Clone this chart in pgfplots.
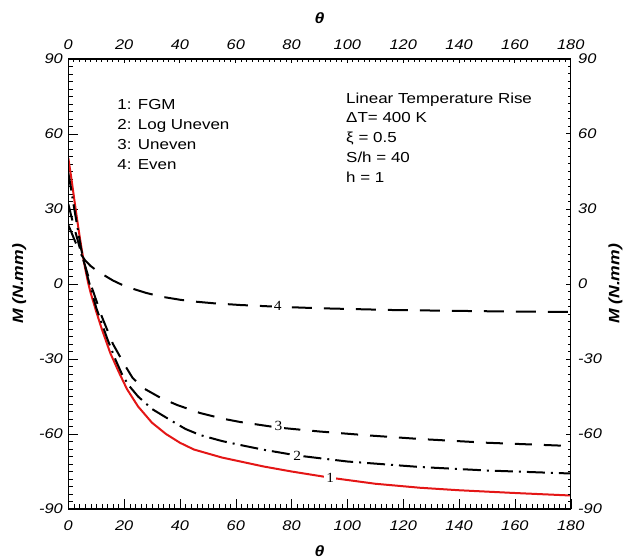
\documentclass[border=0pt]{standalone}
\usepackage{fontspec}
\setmainfont{Liberation Sans}[FakeStretch=1.17]
\newfontfamily\numfont{Liberation Serif}[FakeStretch=1.1]
\usepackage{pgfplots}
\pgfplotsset{compat=1.18}
\definecolor{fgmred}{RGB}{228,22,22}

\pgfplotsset{
  mycommon/.style={
    scale only axis, width=502.4pt, height=450pt,
    xmin=0, xmax=180, ymin=-90, ymax=90,
    xtick={0,20,...,180}, ytick={-90,-60,...,90},
    minor xtick={0,2,...,180}, minor ytick={-90,-87,...,90},
    axis line style={line width=1.2pt},
    tick label style={font=\fontsize{14}{16}\selectfont\itshape},
    /pgf/number format/assume math mode=true,
    every axis label/.append style={font=\fontsize{15}{17}\selectfont\bfseries\itshape},
  }
}

\begin{document}
\begin{tikzpicture}
\begin{axis}[mycommon,
  xtick pos=bottom, ytick pos=left,
  tickwidth=10pt, subtickwidth=5pt, tick style={black},
  xticklabel style={yshift=-8pt},
  yticklabel style={xshift=-2pt},
  xlabel={θ},
  ylabel={M (N.mm)},
  xlabel style={at={(axis description cs:0.5,0)}, anchor=base, yshift=-47pt},
  ylabel style={at={(axis description cs:-0.090,0.5)}, anchor=base},
]
% 1: FGM
\addplot[fgmred, line width=2pt] coordinates {
(0,50.4) (1,43) (2,35) (3,27) (4,19.5) (5,12.5) (6,6.5) (7,1) (8,-3.5) (10,-11) (12,-18) (15,-27.5)
(18,-35) (21,-42) (25,-49) (30,-55.5) (35,-60) (40,-63.5) (45,-66.2) (50,-67.8) (55,-69.4) (60,-70.6)
(70,-73) (80,-75) (94,-77.5) (110,-79.9) (126,-81.5) (140,-82.5) (160,-83.6) (180,-84.6)
};
% 2: Log Uneven
\addplot[black, line width=2pt, dash pattern=on 18pt off 6pt on 2pt off 6pt] coordinates {
(0,44.5) (1,38) (2,31) (3,24.5) (4.6,14) (7,2.5) (10,-9.5) (14,-22) (17,-30.5) (19.6,-37) (22,-41)
(25,-45) (30,-50) (36.5,-54.4) (42,-58) (47.2,-60.4) (55,-62.8) (61.6,-64.4) (70,-66.3) (82,-68.6)
(100,-71) (126,-73.2) (150,-74.6) (180,-75.8)
};
% 3: Uneven
\addplot[black, line width=2pt, dash pattern=on 17pt off 12pt] coordinates {
(0,32) (2,23) (4.6,12.5) (8,0) (12,-13) (16,-24) (20,-32) (23,-37.5) (26.8,-41.6) (33,-45.5) (39,-48.4)
(47.2,-51.6) (55,-53.8) (61.6,-55.2) (75,-57.4) (90,-59) (108,-60.6) (126,-62) (150,-63.5) (180,-64.8)
};
% 4: Even
\addplot[black, line width=2pt, dash pattern=on 20pt off 12pt] coordinates {
(0,23.6) (1,21) (2,18.2) (3.3,14.8) (4.6,11.8) (6,9.5) (8,7.2) (10,5.5) (13,3.4) (16,1.4) (19,-0.2)
(22.8,-1.8) (28,-3.6) (33,-5) (40,-6.3) (45,-7) (52,-7.7) (61.6,-8.4) (75,-9.1) (90,-9.7) (116,-10.4)
(150,-10.9) (180,-11.2)
};
\node[fill=white, inner sep=2pt, font=\numfont\fontsize{14}{14}\selectfont] at (axis cs:93.8,-77.5) {1};
\node[fill=white, inner sep=2pt, font=\numfont\fontsize{14}{14}\selectfont] at (axis cs:82,-68.6) {2};
\node[fill=white, inner sep=2pt, font=\numfont\fontsize{14}{14}\selectfont] at (axis cs:75.3,-56.8) {3};
\node[fill=white, inner sep=2pt, font=\numfont\fontsize{14}{14}\selectfont] at (axis cs:75,-8.9) {4};
% legend text
\begin{scope}[every node/.style={anchor=base west, inner sep=0pt, font=\fontsize{14.5}{16}\selectfont}]
\node at (axis cs:17.55,70) {1: FGM};
\node at (axis cs:17.55,62) {2: Log Uneven};
\node at (axis cs:17.55,54) {3: Uneven};
\node at (axis cs:17.55,46) {4: Even};
\node at (axis cs:99.5,72.4) {Linear Temperature Rise};
\node at (axis cs:99.5,64.6) {ΔT= 400 K};
\node at (axis cs:99.5,56.8) {ξ = 0.5};
\node at (axis cs:99.5,48.8) {S/h = 40};
\node at (axis cs:99.5,40.8) {h = 1};
\end{scope}
\end{axis}
\begin{axis}[mycommon,
  xtick pos=top, ytick pos=right,
  tick style={black, line width=1pt},
  xticklabel pos=upper, yticklabel pos=right,
  xticklabel style={yshift=6pt},
  yticklabel style={xshift=4pt},
  xlabel={θ},
  ylabel={M (N.mm)},
  xlabel style={at={(axis description cs:0.5,1)}, anchor=base, yshift=35pt},
  ylabel style={at={(axis description cs:1.097,0.5)}, anchor=base},
]
\end{axis}
\pgfresetboundingbox
\path[use as bounding box] (-68.3pt,-49pt) rectangle (555.7pt,509pt);
\end{tikzpicture}
\end{document}
